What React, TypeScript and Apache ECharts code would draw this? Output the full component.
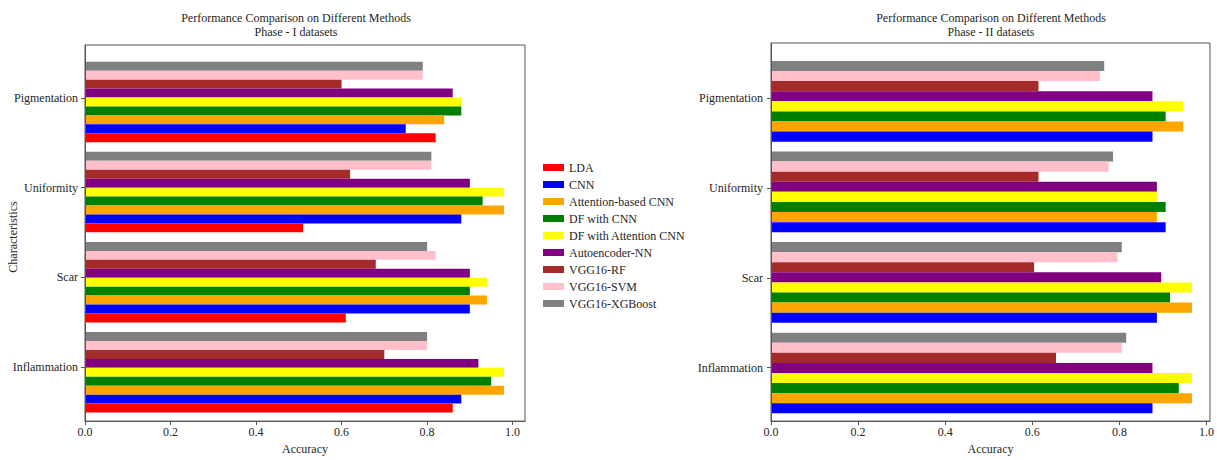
import React, { useEffect, useRef } from "react";
import * as echarts from "echarts";

// Categories (bottom to top, as on the y axis)
const categories = ["Inflammation", "Scar", "Uniformity", "Pigmentation"];
const methods = [
  "LDA",
  "CNN",
  "Attention-based CNN",
  "DF with CNN",
  "DF with Attention CNN",
  "Autoencoder-NN",
  "VGG16-RF",
  "VGG16-SVM",
  "VGG16-XGBoost",
];
const colors = ["#ff0000", "#0000ff", "#ffa500", "#008000", "#ffff00", "#800080", "#a52a2a", "#ffc0cb", "#808080"];
const xTicks = [0, 0.2, 0.4, 0.6, 0.8, 1.0];

// Phase I values (Inflammation, Scar, Uniformity, Pigmentation)
const p1LDA = [0.86, 0.61, 0.51, 0.82];
const p1CNN = [0.88, 0.9, 0.88, 0.75];
const p1AttCNN = [0.98, 0.94, 0.98, 0.84];
const p1DFCNN = [0.95, 0.9, 0.93, 0.88];
const p1DFAtt = [0.98, 0.94, 0.98, 0.88];
const p1AE = [0.92, 0.9, 0.9, 0.86];
const p1RF = [0.7, 0.68, 0.62, 0.6];
const p1SVM = [0.8, 0.82, 0.81, 0.79];
const p1XGB = [0.8, 0.8, 0.81, 0.79];

// Phase II values (LDA not reported)
const p2CNN = [0.87, 0.88, 0.9, 0.87];
const p2AttCNN = [0.96, 0.96, 0.88, 0.94];
const p2DFCNN = [0.93, 0.91, 0.9, 0.9];
const p2DFAtt = [0.96, 0.96, 0.88, 0.94];
const p2AE = [0.87, 0.89, 0.88, 0.87];
const p2RF = [0.65, 0.6, 0.61, 0.61];
const p2SVM = [0.8, 0.79, 0.77, 0.75];
const p2XGB = [0.81, 0.8, 0.78, 0.76];

const phase1 = [p1LDA, p1CNN, p1AttCNN, p1DFCNN, p1DFAtt, p1AE, p1RF, p1SVM, p1XGB];
const phase2 = [null, p2CNN, p2AttCNN, p2DFCNN, p2DFAtt, p2AE, p2RF, p2SVM, p2XGB];

const FONT = "'Liberation Serif', 'Times New Roman', serif";
const TXT = "#262626";
const FRAME = "#555555";

export default function App() {
  const ref = useRef<HTMLDivElement>(null);
  useEffect(() => {
    if (!ref.current) return;
    const chart = echarts.init(ref.current, undefined, { renderer: "svg" });

    const L = { left: 85, right: 692 };
    const R = { left: 771, right: 4 };
    const grids = [
      { ...L, top: 45, bottom: 29.3, show: true, borderColor: FRAME, borderWidth: 1 },
      { ...L, top: 56.95, bottom: 42.65 },
      { ...L, top: 53.15, bottom: 48.15 },
      { ...R, top: 43, bottom: 28.5, show: true, borderColor: FRAME, borderWidth: 1 },
      { ...R, top: 56, bottom: 41.7 },
      { ...R, top: 53.05, bottom: 47.35 },
    ];
    const maxL = 1.029;
    const maxR = 1.008;
    const mkX = (gi: number, max: number, visible: boolean) => ({
      type: "value",
      gridIndex: gi,
      min: 0,
      max,
      show: visible,
      splitLine: { show: false },
      axisLine: { show: visible, lineStyle: { color: FRAME, width: 1 } },
      axisTick: { show: visible, length: 4, customValues: xTicks, lineStyle: { color: FRAME } },
      axisLabel: {
        show: visible,
        margin: 5,
        customValues: xTicks,
        formatter: (v: number) => v.toFixed(1),
        fontFamily: FONT,
        fontSize: 12,
        color: TXT,
      },
      name: visible ? "Accuracy" : "",
      nameLocation: "middle",
      nameGap: 16,
      nameTextStyle: { fontFamily: FONT, fontSize: 12, color: TXT, verticalAlign: "top" },
    });
    const xAxis = [
      mkX(0, maxL, true),
      mkX(1, maxL, false),
      mkX(2, maxL, false),
      mkX(3, maxR, true),
      mkX(4, maxR, false),
      mkX(5, maxR, false),
    ];
    const frameY = (gi: number) => ({
      type: "value",
      gridIndex: gi,
      min: 0,
      max: 1,
      z: 10,
      axisLine: { show: true, lineStyle: { color: FRAME, width: 1 } },
      axisTick: { show: false },
      axisLabel: { show: false },
      splitLine: { show: false },
    });
    const barY = (gi: number) => ({ type: "category", gridIndex: gi, data: categories, show: false });
    const labelY = (gi: number, margin: number) => ({
      type: "category",
      gridIndex: gi,
      data: categories,
      axisLine: { show: false },
      axisTick: { show: true, alignWithLabel: true, length: 4, lineStyle: { color: FRAME } },
      axisLabel: { margin, fontFamily: FONT, fontSize: 12, color: TXT },
      splitLine: { show: false },
    });
    const yAxis = [frameY(0), barY(1), labelY(2, 7), frameY(3), barY(4), labelY(5, 8)];

    // ECharts stacks a group's bars top-down in series order, so add them
    // in reverse to put LDA at the bottom of each group.
    const order = methods.map((_, i) => i).reverse();
    const series: any[] = [];
    order.forEach((i) => {
      series.push({
        type: "bar",
        name: methods[i],
        xAxisIndex: 1,
        yAxisIndex: 1,
        data: phase1[i],
        itemStyle: { color: colors[i] },
        barGap: "0%",
        barCategoryGap: "10.7%",
      });
    });
    order.forEach((i) => {
      const d = phase2[i];
      if (!d) return;
      series.push({
        type: "bar",
        name: methods[i],
        xAxisIndex: 4,
        yAxisIndex: 4,
        data: d,
        itemStyle: { color: colors[i] },
        barGap: "0%",
        barCategoryGap: "10.9%",
      });
    });

    const txt = (x: number, y: number, text: string, rot = 0) => ({
      type: "text",
      x,
      y,
      rotation: rot,
      style: {
        text,
        fill: TXT,
        fontFamily: FONT,
        fontSize: 12,
        align: "center",
        verticalAlign: "middle",
      },
    });

    chart.setOption({
      animation: false,
      backgroundColor: "#ffffff",
      grid: grids,
      xAxis,
      yAxis,
      series,
      legend: {
        data: methods,
        orient: "vertical",
        left: 543,
        top: 161,
        padding: 0,
        icon: "rect",
        itemWidth: 21,
        itemHeight: 7,
        itemGap: 4,
        textStyle: { fontFamily: FONT, fontSize: 12, color: TXT, lineHeight: 13 },
      },
      graphic: [
        txt(296, 18, "Performance Comparison on Different Methods"),
        txt(296, 32, "Phase - I datasets"),
        txt(991, 18, "Performance Comparison on Different Methods"),
        txt(991, 32, "Phase - II datasets"),
        txt(13, 237, "Characteristics", Math.PI / 2),
      ],
    });
    return () => chart.dispose();
  }, []);
  return (
    <div
      ref={ref}
      style={{ position: "fixed", left: 0, top: 0, width: 1217, height: 460, background: "#fff" }}
    />
  );
}
